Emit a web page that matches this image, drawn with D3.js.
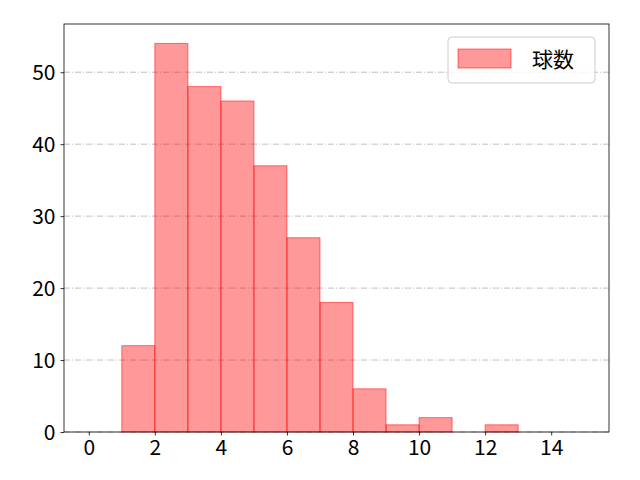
<!DOCTYPE html>
<html>
<head>
<meta charset="utf-8">
<script src="https://cdn.jsdelivr.net/npm/d3@7"></script>
<style>
  body { margin: 0; background: #fff; }
  svg { font-family: "Noto Sans CJK JP", "DejaVu Sans", sans-serif; }
</style>
</head>
<body>
<div id="chart"></div>
<script>
// histogram bins (left edge) and counts
const binStarts = [0, 1, 2, 3, 4, 5, 6, 7, 8, 9, 10, 11, 12, 13, 14];
const counts = [0, 12, 54, 48, 46, 37, 27, 18, 6, 1, 2, 0, 1, 0, 0];
const xTicks = [0, 2, 4, 6, 8, 10, 12, 14];
const yTicks = [0, 10, 20, 30, 40, 50];
const seriesName = "球数";

const width = 640;
const height = 480;
const margin = { top: 24, right: 31, bottom: 48, left: 64 };

const svg = d3.select("#chart")
  .append("svg")
  .attr("width", width)
  .attr("height", height);

const x = d3.scaleLinear()
  .domain([-0.75, 15.75])
  .range([margin.left, width - margin.right]);

const y = d3.scaleLinear()
  .domain([0, 54 * 1.05])
  .range([height - margin.bottom, margin.top]);

// ---- GRID ----
svg.append("g")
  .selectAll("line")
  .data(yTicks)
  .enter()
  .append("line")
  .attr("x1", margin.left)
  .attr("x2", width - margin.right)
  .attr("y1", d => y(d))
  .attr("y2", d => y(d))
  .attr("stroke", "#b0b0b0")
  .attr("stroke-width", 0.8)
  .attr("stroke-dasharray", "6,2,1,2");

// ---- BARS ----
svg.append("g")
  .selectAll("rect")
  .data(binStarts.map((b, i) => ({ b: b, c: counts[i] })).filter(d => d.c > 0))
  .enter()
  .append("rect")
  .attr("x", d => x(d.b))
  .attr("y", d => y(d.c))
  .attr("width", d => x(d.b + 1) - x(d.b))
  .attr("height", d => y(0) - y(d.c))
  .attr("fill", "rgba(255,0,0,0.4)")
  .attr("stroke", "rgba(255,0,0,0.5)")
  .attr("stroke-width", 1);

// ---- AXES ----
const xAxis = svg.append("g")
  .attr("transform", `translate(0,${height - margin.bottom})`)
  .call(d3.axisBottom(x).tickValues(xTicks).tickSize(3.5).tickPadding(3).tickFormat(d3.format("d")));

const yAxis = svg.append("g")
  .attr("transform", `translate(${margin.left},0)`)
  .call(d3.axisLeft(y).tickValues(yTicks).tickSize(3.5).tickPadding(5).tickFormat(d3.format("d")));

[xAxis, yAxis].forEach(a => {
  a.select(".domain").remove();
  a.selectAll("text").attr("font-size", 21).attr("fill", "#000")
    .style("font-family", "'Noto Sans CJK JP', sans-serif");
  a.selectAll("line").attr("stroke", "#000").attr("stroke-width", 0.8);
});
xAxis.selectAll("text").attr("dy", "0.8em");
yAxis.selectAll("text").attr("dy", "0.35em");

// frame
svg.append("rect")
  .attr("x", margin.left)
  .attr("y", margin.top)
  .attr("width", width - margin.left - margin.right)
  .attr("height", height - margin.top - margin.bottom)
  .attr("fill", "none")
  .attr("stroke", "#000")
  .attr("stroke-width", 0.8);

// ---- LEGEND ----
const lg = svg.append("g");
lg.append("rect")
  .attr("x", 448).attr("y", 37)
  .attr("width", 147).attr("height", 46)
  .attr("rx", 4)
  .attr("fill", "rgba(255,255,255,0.8)")
  .attr("stroke", "#ccc");
lg.append("rect")
  .attr("x", 458).attr("y", 49)
  .attr("width", 53).attr("height", 19)
  .attr("fill", "rgba(255,0,0,0.4)")
  .attr("stroke", "rgba(255,0,0,0.5)");
lg.append("text")
  .attr("x", 532).attr("y", 67)
  .attr("font-size", 21)
  .attr("fill", "#000")
  .text(seriesName);
</script>
</body>
</html>
